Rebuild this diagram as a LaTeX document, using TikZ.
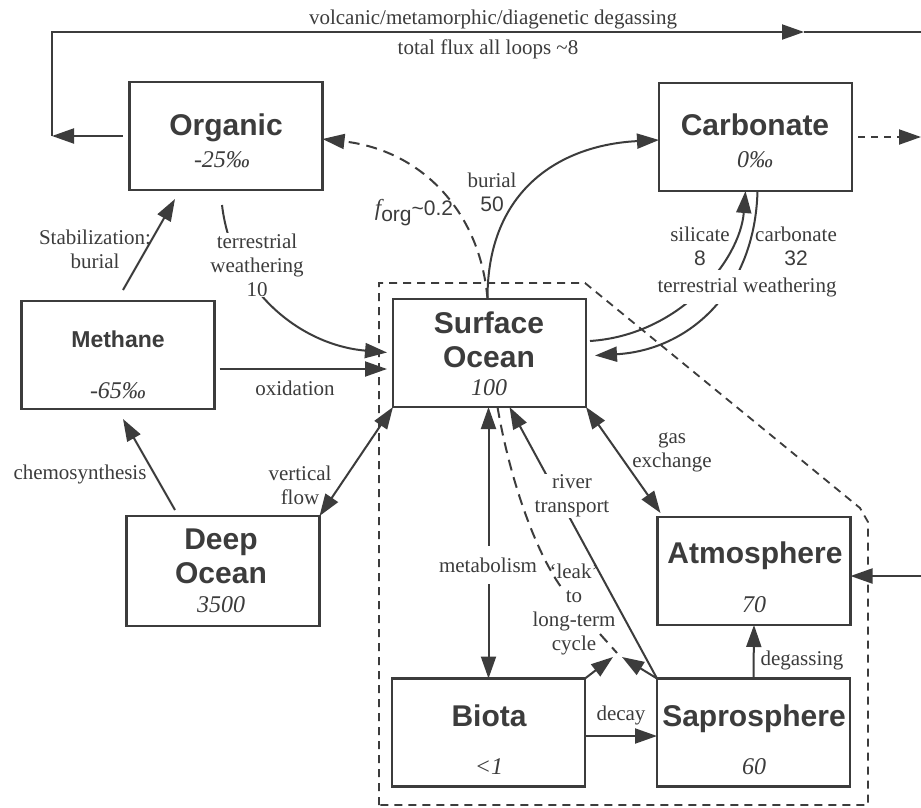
\documentclass[tikz,border=0pt]{standalone}
\usepackage{fontspec}
\setmainfont{Liberation Serif}
\setsansfont{Liberation Sans}
\usetikzlibrary{arrows.meta}
\definecolor{ink}{HTML}{3c3c3c}
\begin{document}
\begin{tikzpicture}[x=1pt,y=-1pt,color=ink,line width=2pt,
  box/.style={draw=ink,line width=2.2pt,minimum width=193pt,minimum height=108pt,inner sep=0pt,outer sep=0pt},
  ttl/.style={font=\sffamily\bfseries\fontsize{30}{32}\selectfont,text=ink,anchor=base,inner sep=0pt},
  val/.style={font=\itshape\fontsize{24}{26}\selectfont,text=ink,anchor=base,inner sep=0pt},
  lab/.style={font=\fontsize{21}{24}\selectfont,text=ink,align=center,inner sep=1pt},
  arr/.style={-{Triangle[length=22pt,width=15pt]}},
  arr2/.style={{Triangle[length=22pt,width=15pt]}-{Triangle[length=22pt,width=15pt]}},
  dsh/.style={dash pattern=on 11pt off 7pt},
  ]
\fill[white] (0,0) rectangle (921,807);
\useasboundingbox (0,0) rectangle (921,807);

% boundary of short-term cycle
\draw[dash pattern=on 8pt off 6pt,line width=1.8pt] (379,805) -- (379,283) -- (585,283) -- (860,508) -- (868,522) -- (868,805) -- cycle;

% boxes
\node[box] (org) at (226,136) {};
\node[box] (carb) at (755.5,137) {};
\node[box] (meth) at (118,355) {};
\node[box] (so) at (489.5,353) {};
\node[box,minimum height=110pt] (deep) at (223,571) {};
\node[box] (atm) at (754,571) {};
\node[box] (sapro) at (753.5,732.5) {};
\node[box] (biota) at (488.5,732.5) {};

% box texts
\node[ttl] (orgT) at (226,135) {Organic};
\node[val] (orgV) at (222,167) {-25‰};
\node[ttl] (carbT) at (755,135) {Carbonate};
\node[val] (carbV) at (755,167) {0‰};
\node[ttl,font=\sffamily\bfseries\fontsize{23}{25}\selectfont] (methT) at (118,347) {Methane};
\node[val] (methV) at (118,398) {-65‰};
\node[ttl] (soT1) at (489,333) {Surface};
\node[ttl] (soT2) at (489,367) {Ocean};
\node[val] (soV) at (489,395) {100};
\node[ttl] (deepT1) at (221,549) {Deep};
\node[ttl] (deepT2) at (221,583) {Ocean};
\node[val] (deepV) at (221,612) {3500};
\node[ttl] (atmT) at (755,563) {Atmosphere};
\node[val] (atmV) at (754,612) {70};
\node[ttl] (saproT) at (754,726) {Saprosphere};
\node[val] (saproV) at (754,774) {60};
\node[ttl] (biotaT) at (489,726) {Biota};
\node[val] (biotaV) at (489,774) {<1};

% top degassing loop
\coordinate (cL) at (52,136);
\coordinate (tL) at (52,32);
\coordinate (tM) at (804,32);
\coordinate (tR) at (921,32);
\draw[arr,shorten <=7pt] (org.west) -- (cL);
\draw[arr] (cL) -- (tL) -- (tM);
\draw (tM) -- (tR);
\node[lab] (volc) at (493,19) {volcanic/metamorphic/diagenetic degassing};
\node[lab] (tot) at (488,49) {total flux all loops \textasciitilde8};

% f_org and burial
\draw[arr,dsh] ([xshift=-2pt]so.north) .. controls (480,210) and (420,150) .. ([yshift=-3pt]org.east);
\node[lab] (forg) at (414,213) {{\itshape\fontsize{23}{24}\selectfont f}\raisebox{-6pt}{\sffamily org}{\sffamily\textasciitilde0.2}};
\draw[arr] ([xshift=-2pt]so.north) .. controls (487,190) and (560,145) .. ([yshift=-3pt]carb.west);
\node[lab] (bur) at (492,192) {burial\\{\sffamily 50}};

% carbonate outflow
\coordinate (cR) at (921,137);
\draw[arr,dash pattern=on 7pt off 6pt,shorten <=6pt] (carb.east) -- (cR);

% weathering between surface ocean and carbonate
\draw[arr] ([yshift=12pt,xshift=4pt]so.east) .. controls (680,335) and (740,260) .. ([xshift=-10pt]carb.south);
\draw[arr,shorten >=9pt] ([xshift=2pt]carb.south) .. controls (755,290) and (690,350) .. ([yshift=-3pt]so.east);
\node[lab,fill=white,inner ysep=7pt] (tw) at (747,287) {terrestrial weathering};
\node[lab] (sil) at (700,246) {silicate\\{\sffamily 8}};
\node[lab] (carbl) at (796,246) {carbonate\\{\sffamily 32}};

% organic weathering to surface ocean
\draw[arr,shorten >=6pt] ([xshift=-4pt,yshift=-15pt]org.south) .. controls (232,290) and (300,345) .. (so.west);
\node[lab,fill=white] (tw2) at (257,265) {terrestrial\\weathering\\10};

% methane links
\draw[arr] ([xshift=5pt,yshift=11pt]meth.north) -- ([xshift=-51pt,yshift=-9pt]org.south);
\node[lab] (stab) at (95,249) {Stabilization:\\burial};
\draw[arr,shorten <=5pt,shorten >=6pt] ([yshift=-14pt]meth.east) -- ([yshift=-16pt]so.west);
\node[lab] (oxi) at (295,388) {oxidation};
\draw[arr] ([xshift=-48pt,yshift=6pt]deep.north) -- ([xshift=5pt,yshift=-10pt]meth.south);
\node[lab] (chem) at (80,474) {chemosynthesis};

% vertical flow
\draw[arr2] (deep.north east) -- (so.south west);
\node[lab] (vf) at (300,485) {vertical\\flow};

% metabolism
\draw[arr2] ([xshift=-1pt]so.south) -- (biota.north);
\node[lab,fill=white,inner ysep=12pt] (met) at (488,565) {metabolism};

% river transport
\draw[arr] (sapro.north west) -- ([xshift=20pt]so.south);
\node[lab,fill=white] (rt) at (572,496) {river\\transport};

% gas exchange
\draw[arr2] (so.south east) -- ([xshift=3pt,yshift=4pt]atm.north west);
\node[lab] (gas) at (672,452) {gas\\exchange};

% degassing, decay
\draw[arr] (sapro.north) -- (atm.south);
\node[lab] (deg) at (802,660) {degassing};
\draw[arr] ([yshift=-3.5pt]biota.east) -- ([yshift=-3.5pt]sapro.west);
\node[lab] (dec) at (621,715) {decay};

% input to atmosphere
\coordinate (aR) at (921,576);
\draw[arr] (aR) -- ([yshift=-5pt]atm.east);

% leak to long-term cycle
\coordinate (leakL) at (613,657);
\coordinate (leakR) at (622,657);
\coordinate (lk1) at (561,587);
\coordinate (lk2) at (600,634);
\coordinate (lkE) at (617,653);
\draw[arr] (biota.north east) -- (leakL);
\draw[arr] (sapro.north west) -- (leakR);
\draw[dsh] ([xshift=8pt]so.south) .. controls (510,480) and (535,550) .. (lk1);
\draw[dsh] (lk2) -- (lkE);
\node[lab] (leak) at (574,609) {`leak'\\to\\long-term\\cycle};
\end{tikzpicture}
\end{document}
